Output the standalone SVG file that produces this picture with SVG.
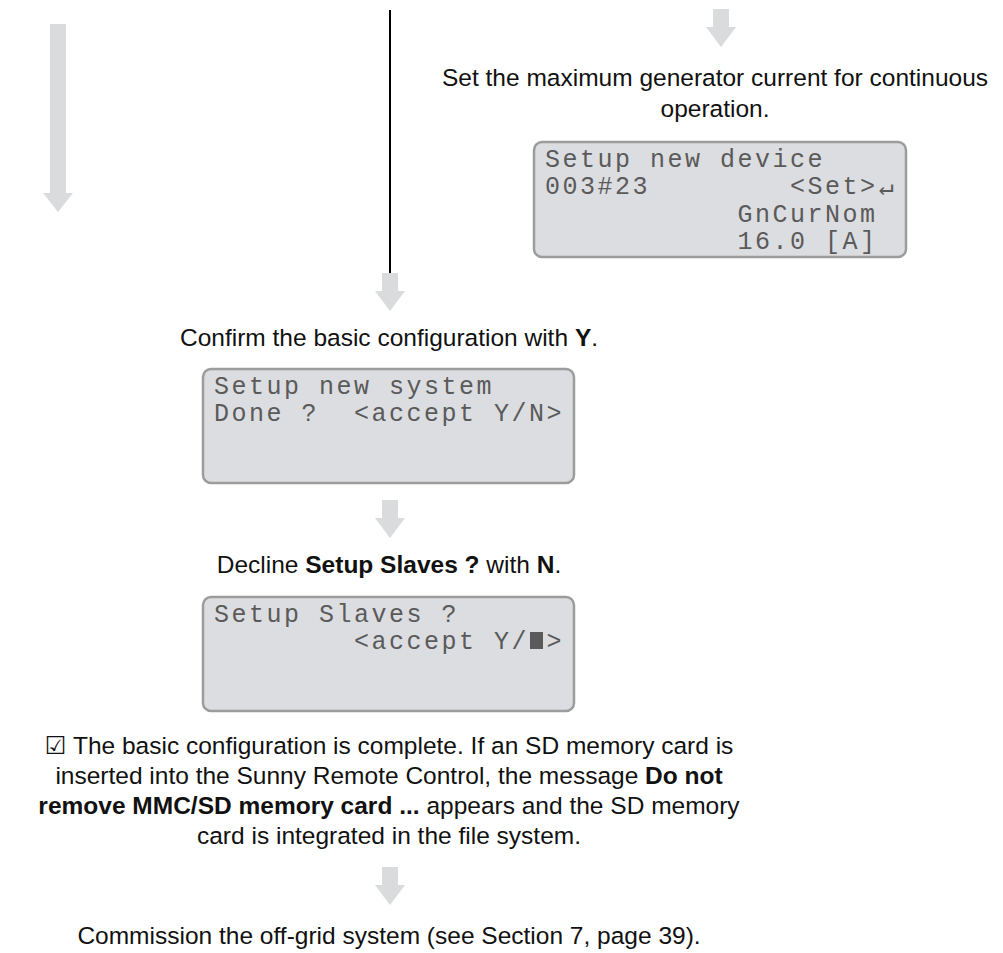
<svg xmlns="http://www.w3.org/2000/svg" width="1003" height="953" viewBox="0 0 1003 953">
<style>
.t{font-family:"Liberation Sans",Arial,sans-serif;font-size:24.5px;fill:#111;text-anchor:middle}
.b{font-weight:bold}
.lcd{fill:#dcdde0;stroke:#9c9c9c;stroke-width:2.5}
.m{font-family:"Liberation Mono","DejaVu Sans Mono",monospace;font-size:25px;letter-spacing:2.5px;fill:#5a5a5a}
.arr{fill:#dadbdd}
</style>
<defs>
<polygon id="sa" points="-8,0 8,0 8,18 15,18 0,38 -15,18 -8,18"/>
</defs>
<rect width="1003" height="953" fill="#fff"/>
<g id="connectors">
<polygon class="arr" points="50,24 66,24 66,193 73,193 58,212 43,193 50,193"/>
<line x1="390" y1="10" x2="390" y2="273" stroke="#000" stroke-width="2"/>
<use href="#sa" class="arr" x="721" y="9"/>
<use href="#sa" class="arr" x="390" y="273"/>
<use href="#sa" class="arr" x="390" y="500"/>
<use href="#sa" class="arr" x="390" y="867"/>
</g>
<g id="step-gencurrent">
<text class="t" x="715" y="86">Set the maximum generator current for continuous</text>
<text class="t" x="715" y="117">operation.</text>
</g>
<g id="lcd-device">
<rect class="lcd" x="534" y="142" width="372" height="115" rx="8"/>
<text class="m" x="545" y="167">Setup new device</text>
<text class="m" x="545" y="194">003#23</text>
<text class="m" x="790" y="194">&lt;Set&gt;</text>
<text x="879" y="195" font-family="DejaVu Sans Mono,monospace" font-size="25" fill="#5a5a5a">↵</text>
<text class="m" x="737.5" y="222">GnCurNom</text>
<text class="m" x="737.5" y="249">16.0 [A]</text>
</g>
<g id="step-confirm">
<text class="t" x="389" y="346">Confirm the basic configuration with <tspan class="b">Y</tspan>.</text>
</g>
<g id="lcd-system">
<rect class="lcd" x="203" y="369" width="371" height="114" rx="8"/>
<text class="m" x="214" y="394">Setup new system</text>
<text class="m" x="214" y="421">Done ?</text>
<text class="m" x="354" y="421">&lt;accept Y/N&gt;</text>
</g>
<g id="step-decline">
<text class="t" x="389" y="573">Decline <tspan class="b">Setup Slaves ?</tspan> with <tspan class="b">N</tspan>.</text>
</g>
<g id="lcd-slaves">
<rect class="lcd" x="203" y="597" width="371" height="114" rx="8"/>
<text class="m" x="214" y="622">Setup Slaves ?</text>
<text class="m" x="354" y="649">&lt;accept Y/</text>
<rect x="530" y="632" width="13" height="17" fill="#5a5a5a"/>
<text class="m" x="546.5" y="649">&gt;</text>
</g>
<g id="result">
<text class="t" x="389" y="754"><tspan font-family="DejaVu Sans,sans-serif">☑</tspan> The basic configuration is complete. If an SD memory card is</text>
<text class="t" x="389" y="784">inserted into the Sunny Remote Control, the message <tspan class="b">Do not</tspan></text>
<text class="t" x="389" y="814"><tspan class="b">remove MMC/SD memory card ...</tspan> appears and the SD memory</text>
<text class="t" x="389" y="844">card is integrated in the file system.</text>
</g>
<g id="step-commission">
<text class="t" x="389" y="944">Commission the off-grid system (see Section 7, page 39).</text>
</g>
</svg>
